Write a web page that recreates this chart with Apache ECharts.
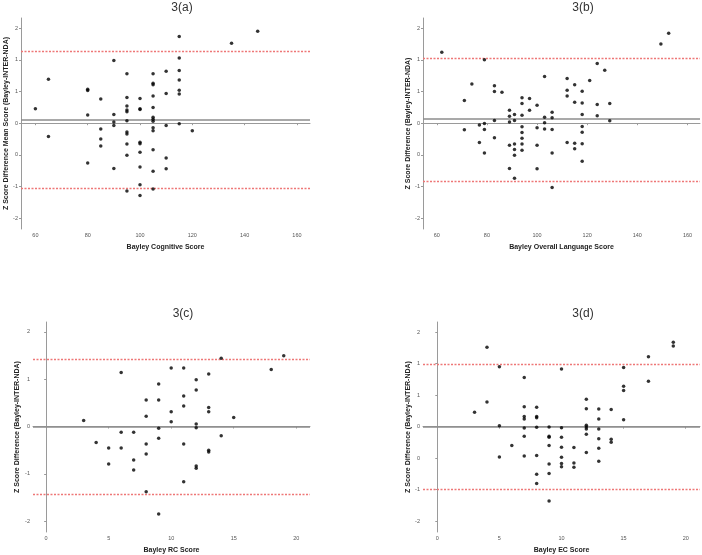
<!DOCTYPE html>
<html>
<head>
<meta charset="utf-8">
<script src="https://cdn.jsdelivr.net/npm/echarts@6/dist/echarts.min.js"></script>
<style>
  html, body { margin: 0; padding: 0; background: #fff; }
  #main { width: 702px; height: 555px; }
</style>
</head>
<body>
<div id="main"></div>
<script>
// panel titles and axis names
var titles = ['3(a)', '3(b)', '3(c)', '3(d)'];
var xNames = ['Bayley Cognitive Score', 'Bayley Overall Language Score', 'Bayley RC Score', 'Bayley EC Score'];
var yNames = [
  'Z Score Difference Mean Score (Bayley-INTER-NDA)',
  'Z Score Difference (Bayley-INTER-NDA)',
  'Z Score Difference (Bayley-INTER-NDA)',
  'Z Score Difference (Bayley-INTER-NDA)'
];

// tick values / labels
var xTicksScore = [60, 80, 100, 120, 140, 160];
var xTicksSub = [0, 5, 10, 15, 20];
var yTicksHalf = [-1.5, -1, -0.5, 0, 0.5, 1, 1.5];
var yLabelsHalf = ['-2', '-1', '0', '0', '1', '1', '2'];
var yTicksOne = [-2, -1, 0, 1, 2];
var yLabelsOne = ['-2', '-1', '0', '1', '2'];

// mean difference and limits of agreement
var cogMean = 0.053, cogLimits = [-1.03, 1.13];
var langMean = 0.068, langLimits = [-0.916, 1.026];
var rcMean = 0, rcLimits = [-1.43, 1.42];
var ecMean = 0, ecLimits = [-0.99, 0.99];

// 3(a) cognitive
var cogPoints = [
  [60, 0.226], [65, 0.695], [65, -0.21], [80, 0.537], [80, 0.516], [80, 0.13], [80, -0.63],
  [85, 0.38], [85, -0.09], [85, -0.25], [85, -0.36],
  [90, 0.99], [90, 0.137], [90, 0.02], [90, -0.037], [90, -0.716],
  [95, 0.78], [95, 0.405], [95, 0.27], [95, 0.21], [95, 0.18], [95, 0.037], [95, -0.14], [95, -0.17],
  [95, -0.33], [95, -0.505], [95, -1.07],
  [100, 0.39], [100, 0.226], [100, 0.216], [100, -0.3], [100, -0.326], [100, -0.46], [100, -0.69],
  [100, -0.97], [100, -1.14],
  [105, 0.78], [105, 0.63], [105, 0.605], [105, 0.43], [105, 0.247], [105, 0.095], [105, 0.063],
  [105, 0.03], [105, -0.074], [105, -0.12], [105, -0.42], [105, -0.76], [105, -1.04],
  [110, 0.82], [110, 0.47], [110, -0.037], [110, -0.55], [110, -0.72],
  [115, 1.37], [115, 1.03], [115, 0.83], [115, 0.68], [115, 0.52], [115, 0.46], [115, -0.01],
  [120, -0.12], [135, 1.26], [145, 1.45]
];

// 3(b) overall language
var langPoints = [
  [62, 1.12], [71, 0.358], [71, -0.105], [74, 0.62], [77, -0.03], [77, -0.305],
  [79, 1.0], [79, -0.005], [79, -0.1], [79, -0.47],
  [83, 0.59], [83, 0.5], [83, 0.042], [83, -0.23], [86, 0.49],
  [89, 0.205], [89, 0.11], [89, 0.02], [89, -0.35], [89, -0.716],
  [91, 0.137], [91, 0.042], [91, -0.33], [91, -0.416], [91, -0.505], [91, -0.87],
  [94, 0.4], [94, 0.31], [94, 0.126], [94, -0.058], [94, -0.147], [94, -0.237], [94, -0.33], [94, -0.426],
  [97, 0.39], [97, 0.205],
  [100, 0.284], [100, -0.074], [100, -0.35], [100, -0.72],
  [103, 0.737], [103, 0.095], [103, 0.005], [103, -0.09],
  [106, 0.174], [106, 0.084], [106, -0.1], [106, -0.47], [106, -1.016],
  [112, 0.705], [112, 0.52], [112, 0.43], [112, -0.305],
  [115, 0.605], [115, 0.33], [115, -0.316], [115, -0.405],
  [118, 0.505], [118, 0.32], [118, 0.137], [118, -0.053], [118, -0.142], [118, -0.326], [118, -0.6],
  [121, 0.674], [124, 0.94], [124, 0.295], [124, 0.116], [127, 0.837], [129, 0.31], [129, 0.037],
  [149.4, 1.25], [152.5, 1.42]
];

// 3(c) RC
var rcPoints = [
  [3, 0.126], [4, -0.337], [5, -0.456], [5, -0.79],
  [6, 1.14], [6, -0.12], [6, -0.456],
  [7, -0.12], [7, -0.71], [7, -0.92],
  [8, 0.56], [8, 0.218], [8, -0.372], [8, -0.58], [8, -1.38],
  [9, 0.9], [9, 0.56], [9, -0.035], [9, -0.246], [9, -1.85],
  [10, 1.24], [10, 0.31], [10, 0.1],
  [11, 1.235], [11, 0.646], [11, 0.435], [11, -0.372], [11, -1.165],
  [12, 0.99], [12, 0.77], [12, 0.056], [12, -0.028], [12, -0.835], [12, -0.884],
  [13, 1.11], [13, 0.4], [13, 0.31], [13, -0.5], [13, -0.54],
  [14, 1.446], [14, -0.196], [15, 0.19], [18, 1.207], [19, 1.495]
];

// 3(d) EC
var ecPoints = [
  [3, 0.23], [4, 1.26], [4, 0.39], [5, 0.95], [5, 0.016], [5, -0.48], [6, -0.3],
  [7, 0.78], [7, 0.316], [7, 0.163], [7, 0.12], [7, -0.02], [7, -0.153], [7, -0.463],
  [8, 0.31], [8, 0.163], [8, 0.142], [8, -0.01], [8, -0.458], [8, -0.753], [8, -0.9],
  [9, -0.005], [9, -0.153], [9, -0.168], [9, -0.3], [9, -0.59], [9, -0.742], [9, -1.18],
  [10, 0.916], [10, -0.016], [10, -0.168], [10, -0.326], [10, -0.484], [10, -0.584], [10, -0.637],
  [11, -0.33], [11, -0.574], [11, -0.642],
  [12, 0.437], [12, 0.284], [12, 0.021], [12, -0.005], [12, -0.037], [12, -0.12], [12, -0.41],
  [13, 0.28], [13, 0.12], [13, -0.037], [13, -0.19], [13, -0.342], [13, -0.55],
  [14, 0.274], [14, -0.2], [14, -0.247],
  [15, 0.937], [15, 0.642], [15, 0.574], [15, 0.11],
  [17, 1.11], [17, 0.72], [19, 1.34], [19, 1.28]
];

var chart = echarts.init(document.getElementById('main'));

var grids = [
  { left: 21, right: 392, top: 18, bottom: 326 },
  { left: 423, right: 2, top: 18, bottom: 326 },
  { left: 33, right: 392, top: 322, bottom: 22 },
  { left: 423, right: 2, top: 322, bottom: 22 }
];
var titlePos = [[177, -3], [578, -3], [178, 303], [578, 303]];
var xRanges = [[54.5, 165], [54.5, 165], [-1.05, 21.1], [-1.15, 21.15]];
var yRanges = [[-1.67, 1.66], [-1.67, 1.66], [-2.23, 2.21], [-1.67, 1.66]];
var xTickSets = [xTicksScore, xTicksScore, xTicksSub, xTicksSub];
var yTickSets = [yTicksHalf, yTicksHalf, yTicksOne, yTicksHalf];
var yLabelSets = [yLabelsHalf, yLabelsHalf, yLabelsOne, yLabelsHalf];
var yNameGaps = [10, 10, 12, 10];
var pointSets = [cogPoints, langPoints, rcPoints, ecPoints];
var means = [cogMean, langMean, rcMean, ecMean];
var limits = [cogLimits, langLimits, rcLimits, ecLimits];

var axisColor = '#9a9a9a';
var labelStyle = { fontSize: 5.5, color: '#555', fontFamily: 'Liberation Sans' };
var nameStyle = { fontSize: 7, fontWeight: 'bold', color: '#222', fontFamily: 'Liberation Sans' };

var option = {
  backgroundColor: '#fff',
  animation: false,
  title: [],
  grid: grids,
  xAxis: [],
  yAxis: [],
  series: []
};

for (var i = 0; i < 4; i++) {
  option.title.push({
    text: titles[i],
    left: titlePos[i][0],
    top: titlePos[i][1],
    textAlign: 'center',
    textStyle: { fontSize: 12, fontWeight: 'normal', color: '#333', fontFamily: 'Liberation Sans' }
  });
  option.xAxis.push({
    type: 'value',
    gridIndex: i,
    min: xRanges[i][0],
    max: xRanges[i][1],
    name: xNames[i],
    nameLocation: 'middle',
    nameGap: 15,
    nameTextStyle: nameStyle,
    axisLine: { lineStyle: { color: axisColor, width: 1 } },
    axisTick: { length: 2, customValues: xTickSets[i], lineStyle: { color: axisColor } },
    axisLabel: { customValues: xTickSets[i], margin: 3, ...labelStyle },
    splitLine: { show: false }
  });
  (function (labels, ticks) {
    option.yAxis.push({
      type: 'value',
      gridIndex: i,
      min: yRanges[i][0],
      max: yRanges[i][1],
      name: yNames[i],
      nameLocation: 'middle',
      nameGap: yNameGaps[i],
      nameTextStyle: nameStyle,
      axisLine: { show: true, lineStyle: { color: axisColor, width: 1 } },
      axisTick: { show: true, length: 2, customValues: ticks, lineStyle: { color: axisColor } },
      axisLabel: {
        customValues: ticks,
        margin: 3,
        ...labelStyle,
        formatter: function (v) {
          var k = ticks.indexOf(Math.round(v * 100) / 100);
          return k >= 0 ? labels[k] : '';
        }
      },
      splitLine: { show: false }
    });
  })(yLabelSets[i], yTickSets[i]);
  // points + mean line (solid gray)
  option.series.push({
    type: 'scatter',
    xAxisIndex: i,
    yAxisIndex: i,
    data: pointSets[i],
    symbol: 'circle',
    symbolSize: 3.5,
    itemStyle: { color: '#000' },
    z: 5,
    markLine: {
      silent: true,
      symbol: 'none',
      label: { show: false },
      lineStyle: { color: '#8c8c8c', type: 'solid', width: 1.5 },
      data: [{ yAxis: means[i] }]
    }
  });
  // limits of agreement (red dotted)
  option.series.push({
    type: 'scatter',
    xAxisIndex: i,
    yAxisIndex: i,
    data: pointSets[i],
    symbolSize: 0,
    itemStyle: { color: 'rgba(0,0,0,0)' },
    z: 1,
    markLine: {
      silent: true,
      symbol: 'none',
      label: { show: false },
      lineStyle: { color: '#ee7777', type: [2, 1.5], width: 1.3 },
      data: [{ yAxis: limits[i][0] }, { yAxis: limits[i][1] }]
    }
  });
}

chart.setOption(option);
</script>
</body>
</html>
